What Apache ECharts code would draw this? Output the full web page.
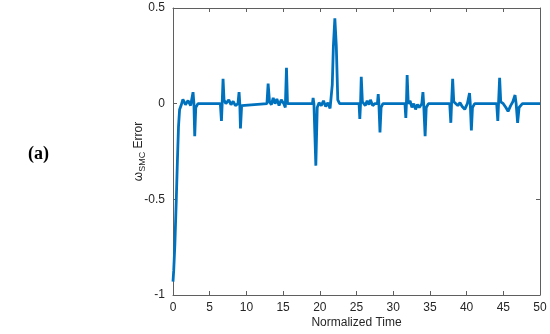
<!DOCTYPE html>
<html>
<head>
<meta charset="utf-8">
<script src="https://cdn.jsdelivr.net/npm/echarts@6/dist/echarts.min.js"></script>
<style>html,body{margin:0;padding:0;background:#fff;}#c{width:550px;height:334px;}</style>
</head>
<body>
<div id="c"></div>
<script>
// Normalized time samples and the omega_SMC error
var timeValues = [
  0, 0.1, 0.25, 0.45, 0.6, 0.75, 0.9, 1.1, 1.35, 1.7, 2.05, 2.4, 2.6, 2.73, 2.85, 2.96, 3.1, 3.4,
  6.45, 6.6, 6.7, 6.82, 6.95, 7.2, 7.6, 7.9, 8.2, 8.5, 8.85, 9.0, 9.1, 9.19, 9.35, 9.6,
  12.8, 12.96, 13.15, 13.4, 13.65, 13.9, 14.15, 14.45, 14.75, 15.1, 15.3, 15.46, 15.6,
  19.0, 19.09, 19.2, 19.46, 19.65, 19.9, 20.2, 20.5, 20.8, 21.1, 21.4, 21.7, 21.85, 22.05, 22.25, 22.45, 22.7,
  25.35, 25.45, 25.55, 25.65, 25.8, 26.0, 26.2, 26.45, 26.7, 26.9, 27.2, 27.5, 27.85, 27.96, 28.05, 28.2, 28.35, 28.6,
  31.6, 31.72, 31.8, 31.9, 32.05, 32.3, 32.55, 32.8, 33.05, 33.3, 33.55, 33.9, 34.05, 34.15, 34.35, 34.5, 34.8,
  37.7, 37.85, 37.95, 38.1, 38.25, 38.5, 38.8, 39.1, 39.4, 39.75, 40.1, 40.4, 40.5, 40.65, 40.8, 41.1,
  44.1, 44.25, 44.35, 44.5, 44.65, 45.0, 45.35, 45.65, 46.0, 46.3, 46.6, 46.75, 46.95, 47.15, 47.6, 50
];
var errorValues = [
  -0.93, -0.87, -0.74, -0.5, -0.3, -0.12, -0.03, -0.01, 0.022, -0.005, 0.016, -0.01, 0.0, 0.06, 0.0, -0.17, -0.02, 0,
  0, -0.09, 0, 0.13, 0.02, 0.0, 0.02, -0.005, 0.012, -0.01, 0.0, 0.06, 0.0, -0.13, -0.01, 0,
  0, 0.105, 0.01, -0.005, 0.03, 0.0, 0.025, -0.01, 0.02, 0.0, -0.02, 0.187, 0.0,
  0, 0.03, 0.0, -0.324, -0.02, 0.005, -0.01, 0.015, -0.015, 0.005, -0.025, 0.1, 0.3, 0.446, 0.3, 0.02, 0,
  0, -0.08, 0, 0.14, 0.01, 0.02, -0.01, 0.015, -0.005, 0.02, -0.01, 0.0, 0.0, 0.05, 0, -0.15, -0.02, 0,
  0, -0.075, 0, 0.15, 0.0, 0.015, -0.02, 0.0, -0.03, -0.005, -0.02, 0, 0.06, 0, -0.17, -0.02, 0,
  0, -0.1, 0, 0.13, 0.01, 0.02, -0.01, 0.005, -0.015, -0.03, 0, 0.055, 0, -0.14, -0.02, 0,
  0, -0.09, 0, 0.135, 0.01, 0.0, -0.02, -0.04, -0.01, 0.01, 0.045, 0, -0.1, -0.02, 0, 0
];
var xTicks = [0, 5, 10, 15, 20, 25, 30, 35, 40, 45, 50];
var yTicks = [-1, -0.5, 0, 0.5];

var pts = timeValues.map(function (t, i) { return [t, errorValues[i]]; });
var axisColor = '#5f5f5f';
var textColor = '#262626';
var font = 'Liberation Sans, Arial, Helvetica, sans-serif';

function xAxisCfg(pos, showLabel) {
  return {
    type: 'value', position: pos, min: xTicks[0], max: xTicks[xTicks.length - 1], interval: 5,
    axisLine: { show: true, onZero: false, lineStyle: { color: axisColor, width: 1 } },
    axisTick: { show: true, inside: true, length: 4, lineStyle: { color: axisColor } },
    axisLabel: { show: showLabel, color: textColor, fontSize: 12, fontFamily: font, margin: 7 },
    splitLine: { show: false }
  };
}
function yAxisCfg(pos, showLabel) {
  return {
    type: 'value', position: pos, min: yTicks[0], max: yTicks[yTicks.length - 1], interval: 0.5,
    axisLine: { show: true, onZero: false, lineStyle: { color: axisColor, width: 1 } },
    axisTick: { show: true, inside: true, length: 4, lineStyle: { color: axisColor } },
    axisLabel: { show: showLabel, color: textColor, fontSize: 12, fontFamily: font, margin: 8,
      formatter: function (v) { return String(v); } },
    splitLine: { show: false }
  };
}

var chart = echarts.init(document.getElementById('c'), null, { renderer: 'canvas' });
var xa = xAxisCfg('bottom', true);
xa.name = 'Normalized Time';
xa.nameLocation = 'middle';
xa.nameGap = 22;
xa.nameMoveOverlap = false;
xa.nameTextStyle = { color: textColor, fontSize: 12, fontFamily: font };
var xb = xAxisCfg('top', false);
var ya = yAxisCfg('left', true);
ya.name = '{w|ω}{s|SMC}{e| Error}';
ya.nameLocation = 'middle';
ya.nameGap = 26;
ya.nameRotate = 90;
ya.nameMoveOverlap = false;
ya.nameTextStyle = {
  color: textColor, fontFamily: font,
  rich: {
    w: { fontSize: 12, fontFamily: font, color: textColor, lineHeight: 16, verticalAlign: 'middle' },
    s: { fontSize: 9, fontFamily: font, color: textColor, lineHeight: 16, verticalAlign: 'bottom', padding: [8, 0, 0, 0] },
    e: { fontSize: 12, fontFamily: font, color: textColor, lineHeight: 16, verticalAlign: 'middle' }
  }
};
var yb = yAxisCfg('right', false);

chart.setOption({
  animation: false,
  backgroundColor: '#ffffff',
  grid: { left: 173, right: 10, top: 8, bottom: 37, containLabel: false },
  xAxis: [xa, xb],
  yAxis: [ya, yb],
  graphic: [{
    type: 'text', left: 28, top: 145,
    style: { text: '(a)', font: 'bold 18px "Liberation Serif", "DejaVu Serif", serif', fill: '#000' }
  }],
  series: [{
    type: 'line', xAxisIndex: 0, yAxisIndex: 0, data: pts,
    showSymbol: false, symbol: 'none',
    lineStyle: { color: '#0072BD', width: 2.8 },
    clip: true
  }]
});
</script>
</body>
</html>
